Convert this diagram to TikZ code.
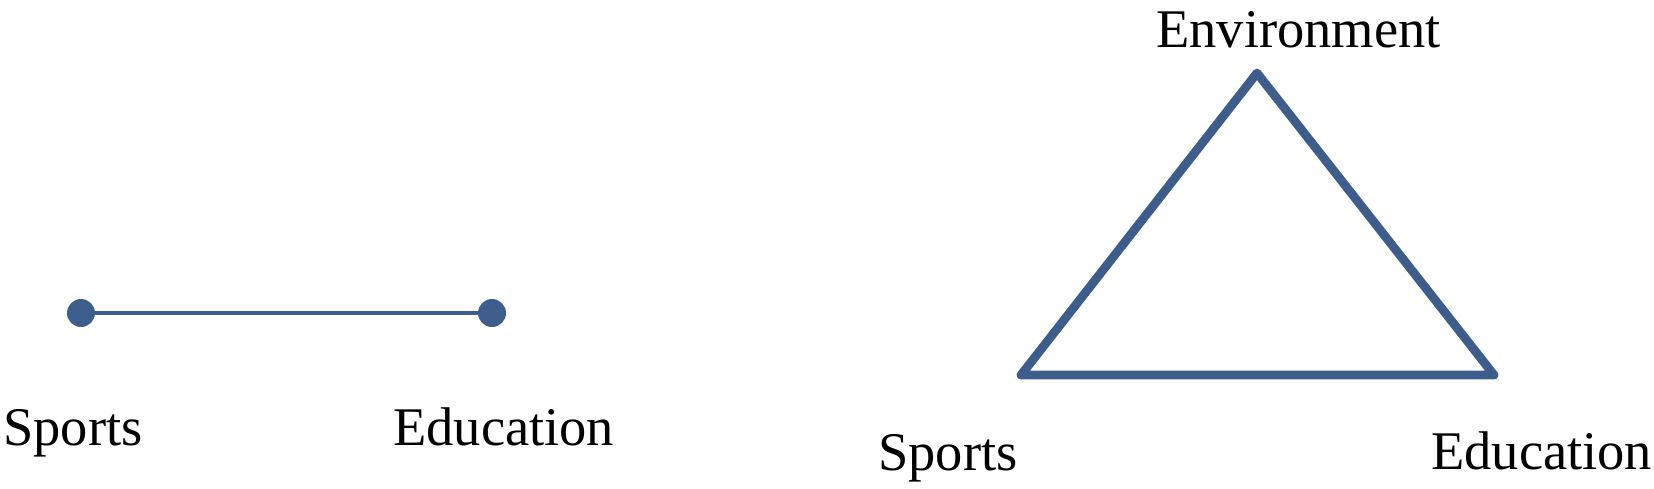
\documentclass[tikz,border=0pt]{standalone}
\usepackage{fontspec}
\setmainfont{Liberation Serif}
\usepackage{xcolor}
\usetikzlibrary{positioning}
\definecolor{Steel}{HTML}{3D5E8C}

\begin{document}
\begin{tikzpicture}[x=0.02cm,y=-0.02cm,font=\fontsize{31}{37}\selectfont,
  label/.style={inner sep=0pt,anchor=base west},
  dot/.style={circle,fill=Steel,minimum size=0.56cm,inner sep=0pt}]
  \useasboundingbox (0,0) rectangle (1654,488);
  % two ends joined by one line
  \node[dot] (s1) at (81,313) {};
  \node[dot] (e1) at (492,313) {};
  \draw[Steel,line width=2.3pt] (s1) -- (e1);
  \node[label] (ls1) at (3,445) {Sports};
  \node[label] (le1) at (393,445) {Education};
  % three corners
  \coordinate (s2) at (1021,375);
  \coordinate (e2) at (1494,375);
  \coordinate (v2) at (1257,73);
  \draw[Steel,line width=5pt,line join=round,line cap=round] (s2) -- (e2) -- (v2) -- cycle;
  \node[label] (ls2) at (878,470) {Sports};
  \node[label] (le2) at (1431,469) {Education};
  \node[label] (lv2) at (1156,47) {Environment};
\end{tikzpicture}
\end{document}
